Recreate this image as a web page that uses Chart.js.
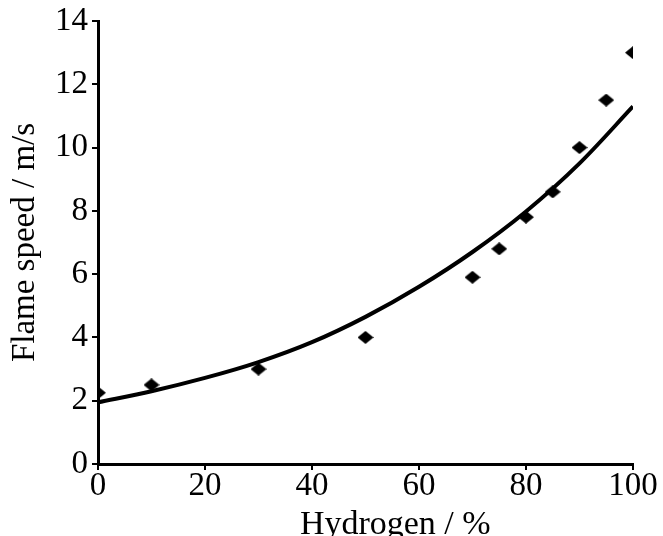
<!DOCTYPE html>
<html lang="en">
<head>
    <meta charset="UTF-8">
    <title>Flame speed</title>
    <script src="https://cdn.jsdelivr.net/npm/chart.js@4.4.0/dist/chart.umd.min.js"></script>
    <style>
        html, body { margin: 0; padding: 0; background: #fff; }
        #wrap { width: 663px; height: 536px; }
    </style>
</head>
<body>
<div id="wrap"><canvas id="flameChart"></canvas></div>
<script>
    // measured points
    var hydrogen = [0, 10, 30, 50, 70, 75, 80, 85, 90, 95, 100];
    var flameSpeed = [2.25, 2.5, 3.0, 4.0, 5.9, 6.8, 7.8, 8.6, 10.0, 11.5, 13.0];

    // trend line
    var trendX = [0, 10, 20, 30, 40, 50, 60, 70, 80, 90, 100];
    var trendY = [1.95, 2.3, 2.72, 3.22, 3.85, 4.65, 5.6, 6.7, 7.98, 9.5, 11.3];

    var xTicks = [0, 20, 40, 60, 80, 100];
    var yTicks = [0, 2, 4, 6, 8, 10, 12, 14];

    function toXY(xs, ys) {
        var out = [];
        for (var i = 0; i < xs.length; i++) {
            out.push({x: xs[i], y: ys[i]});
        }
        return out;
    }

    // flat diamond marker, a bit wider than tall
    function makeDiamond(w, h) {
        var c = document.createElement('canvas');
        c.width = w; c.height = h;
        var g = c.getContext('2d');
        g.fillStyle = '#000';
        g.beginPath();
        g.moveTo(w / 2, 0);
        g.lineTo(w, h / 2);
        g.lineTo(w / 2, h);
        g.lineTo(0, h / 2);
        g.closePath();
        g.fill();
        return c;
    }

    var serif = '"Liberation Serif", "DejaVu Serif", serif';
    var ctx = document.getElementById('flameChart');
    new Chart(ctx, {
        type: 'scatter',
        data: {
            datasets: [{
                label: 'measured',
                data: toXY(hydrogen, flameSpeed),
                pointStyle: makeDiamond(16, 13),
                pointRadius: 8,
                pointHoverRadius: 8,
                backgroundColor: '#000',
                borderColor: '#000',
                borderWidth: 0
            }, {
                label: 'trend',
                data: toXY(trendX, trendY),
                showLine: true,
                pointRadius: 0,
                borderColor: '#000',
                borderWidth: 4,
                cubicInterpolationMode: 'monotone',
                fill: false
            }]
        },
        options: {
            responsive: true,
            maintainAspectRatio: false,
            animation: false,
            layout: { padding: { top: 21, right: 30, bottom: -8, left: 6 } },
            plugins: { legend: { display: false }, tooltip: { enabled: false } },
            scales: {
                x: {
                    type: 'linear',
                    min: 0, max: 100,
                    afterBuildTicks: function (s) { s.ticks = xTicks.map(function (v) { return {value: v}; }); },
                    afterFit: function (s) { s.height = 80; },
                    border: { color: '#000', width: 3 },
                    grid: { drawOnChartArea: false, color: '#000', lineWidth: 2, tickLength: 6 },
                    ticks: { color: '#000', padding: 0, font: { family: serif, size: 33, lineHeight: 1 } },
                    title: { display: true, text: '\u00a0\u00a0\u00a0\u00a0\u00a0\u00a0\u00a0Hydrogen / %', color: '#000', padding: 0,
                        font: { family: serif, size: 34, lineHeight: 1.1 } }
                },
                y: {
                    type: 'linear',
                    min: 0, max: 14,
                    afterBuildTicks: function (s) { s.ticks = yTicks.map(function (v) { return {value: v}; }); },
                    afterFit: function (s) { s.width = 92; },
                    border: { color: '#000', width: 3 },
                    grid: { drawOnChartArea: false, color: '#000', lineWidth: 2, tickLength: 6 },
                    ticks: { color: '#000', padding: 4, font: { family: serif, size: 33, lineHeight: 1 } },
                    title: { display: true, text: 'Flame speed / m/s', color: '#000', padding: 0,
                        font: { family: serif, size: 33 } }
                }
            }
        }
    });
</script>
</body>
</html>
